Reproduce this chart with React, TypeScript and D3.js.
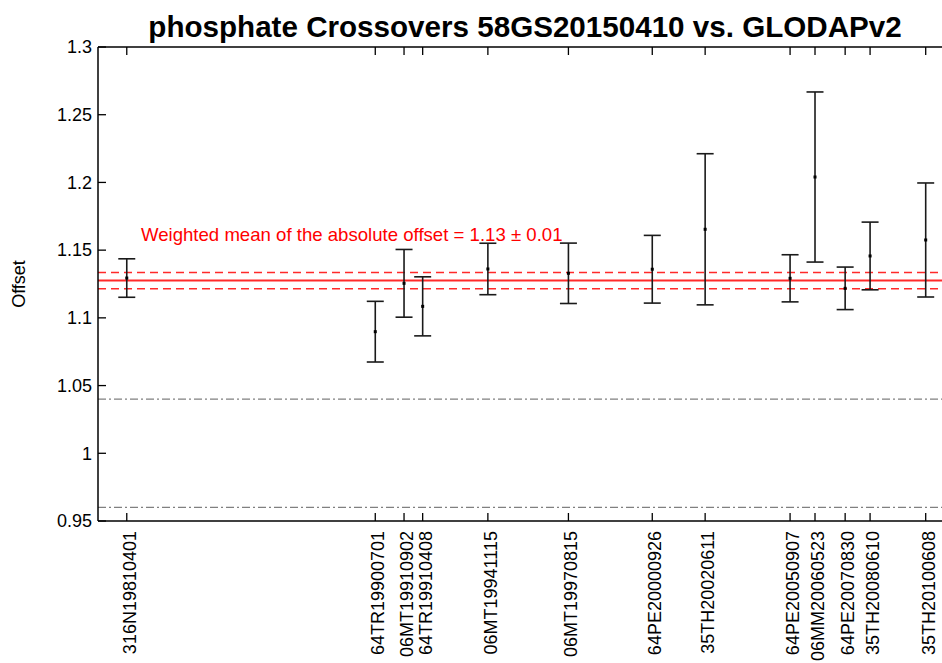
import React from "react";
import * as d3 from "d3";

const cruises = [
  "316N19810401",
  "64TR19900701",
  "06MT19910902",
  "64TR19910408",
  "06MT19941115",
  "06MT19970815",
  "64PE20000926",
  "35TH20020611",
  "64PE20050907",
  "06MM20060523",
  "64PE20070830",
  "35TH20080610",
  "35TH20100608",
];
// nominal x position of each cruise (decimal-year-like axis units)
const cruiseX = [
  1981.25, 1990.32, 1991.37, 1992.05, 1994.43, 1997.37, 2000.43, 2002.36,
  2005.46, 2006.37, 2007.47, 2008.38, 2010.41,
];
const offsets = [
  1.1294, 1.0898, 1.1255, 1.1085, 1.1361, 1.1329, 1.1359, 1.1654, 1.1292,
  1.204, 1.1218, 1.1457, 1.1575,
];
const errors = [
  0.0142, 0.0224, 0.025, 0.0218, 0.019, 0.0223, 0.025, 0.0558, 0.0174,
  0.0628, 0.0157, 0.025, 0.0421,
];
const yTicks = [0.95, 1, 1.05, 1.1, 1.15, 1.2, 1.25, 1.3];
const weightedMean = 1.1275;
const weightedMeanErr = 0.006;
const limitLines = [0.96, 1.04];
const xDomain = [1980.2, 2011.37];
const yDomain = [0.95, 1.3];

const FONT = "'Liberation Sans', Arial, Helvetica, sans-serif";

export default function App() {
  const W = 942;
  const H = 663;
  const left = 98;
  const right = 952;
  const top = 47;
  const bottom = 521;

  const x = d3.scaleLinear().domain(xDomain).range([left, right]);
  const y = d3.scaleLinear().domain(yDomain).range([bottom, top]);

  const capHalf = 8.5;
  const tickLen = 8;

  return (
    <svg
      width={W}
      height={H}
      style={{ position: "absolute", left: 0, top: 0, background: "#fff" }}
      fontFamily={FONT}
    >
      <rect x={0} y={0} width={W} height={H} fill="#fff" />
      {/* title */}
      <text
        x={525}
        y={37}
        textAnchor="middle"
        fontSize={29.6}
        fontWeight="bold"
        fill="#000"
      >
        phosphate Crossovers 58GS20150410 vs. GLODAPv2
      </text>

      {/* gray limit lines */}
      {limitLines.map((v, i) => (
        <line
          key={"lim" + i}
          x1={left}
          x2={right}
          y1={y(v)}
          y2={y(v)}
          stroke="#808080"
          strokeWidth={1.3}
          strokeDasharray="8,3,2,3"
        />
      ))}

      {/* weighted mean lines */}
      <line
        x1={left}
        x2={right}
        y1={y(weightedMean)}
        y2={y(weightedMean)}
        stroke="#ff2a2a"
        strokeWidth={2}
      />
      {[weightedMean - weightedMeanErr, weightedMean + weightedMeanErr].map(
        (v, i) => (
          <line
            key={"me" + i}
            x1={left}
            x2={right}
            y1={y(v)}
            y2={y(v)}
            stroke="#ff2a2a"
            strokeWidth={1.5}
            strokeDasharray="8,5"
          />
        )
      )}
      <text x={141} y={241} fontSize={18.6} fill="#ff0000">
        Weighted mean of the absolute offset = {weightedMean.toFixed(2)} ±{" "}
        {(0.01).toFixed(2)}
      </text>

      {/* error bars */}
      {cruises.map((c, i) => {
        const cx = x(cruiseX[i]);
        const yt = y(offsets[i] + errors[i]);
        const yb = y(offsets[i] - errors[i]);
        const yc = y(offsets[i]);
        return (
          <g key={c} stroke="#1a1a1a" strokeWidth={1.6}>
            <line x1={cx} x2={cx} y1={yt} y2={yb} />
            <line x1={cx - capHalf} x2={cx + capHalf} y1={yt} y2={yt} />
            <line x1={cx - capHalf} x2={cx + capHalf} y1={yb} y2={yb} />
            <rect
              x={cx - 1.5}
              y={yc - 1.5}
              width={3}
              height={3}
              fill="#000"
              stroke="none"
            />
          </g>
        );
      })}

      {/* axes frame */}
      <g stroke="#000" strokeWidth={1.5} fill="none">
        <line x1={left} x2={right} y1={bottom} y2={bottom} />
        <line x1={left} x2={right} y1={top} y2={top} />
        <line x1={left} x2={left} y1={top} y2={bottom} />
      </g>

      {/* y ticks */}
      {yTicks.map((t) => (
        <g key={"yt" + t}>
          <line
            x1={left}
            x2={left + tickLen}
            y1={y(t)}
            y2={y(t)}
            stroke="#000"
            strokeWidth={1.3}
          />
          <text
            x={left - 6}
            y={y(t)}
            dy="0.35em"
            textAnchor="end"
            fontSize={18}
            fill="#000"
          >
            {String(t)}
          </text>
        </g>
      ))}

      {/* x ticks */}
      {cruises.map((c, i) => {
        const cx = x(cruiseX[i]);
        return (
          <g key={"xt" + c}>
            <line
              x1={cx}
              x2={cx}
              y1={bottom}
              y2={bottom - tickLen}
              stroke="#000"
              strokeWidth={1.3}
            />
            <line
              x1={cx}
              x2={cx}
              y1={top}
              y2={top + tickLen}
              stroke="#000"
              strokeWidth={1.3}
            />
            <text
              transform={`translate(${cx + 9},${531}) rotate(-90)`}
              textAnchor="end"
              fontSize={18}
              fill="#000"
            >
              {c}
            </text>
          </g>
        );
      })}

      {/* y label */}
      <text
        transform={`translate(25,${(top + bottom) / 2}) rotate(-90)`}
        textAnchor="middle"
        fontSize={18}
        fill="#000"
      >
        Offset
      </text>
    </svg>
  );
}
